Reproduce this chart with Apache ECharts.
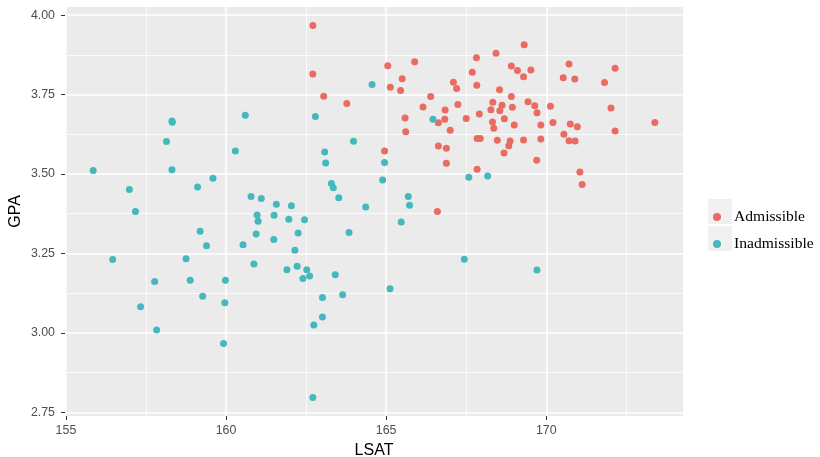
<!DOCTYPE html>
<html>
<head>
<meta charset="utf-8">
<script src="https://cdn.jsdelivr.net/npm/echarts@6/dist/echarts.min.js"></script>
<style>
	html, body {margin: 0; padding: 0; background: #fff;}
	#main {width: 820px; height: 457px;}
</style>
</head>
<body>
<div id="main"></div>
<script>
var seriesNames = ['Admissible', 'Inadmissible'];

// [LSAT, GPA]
var admissible = [
	[162.71, 3.967], [162.71, 3.815], [163.05, 3.745], [163.77, 3.722], [165.05, 3.841],
	[165.89, 3.853], [165.50, 3.800], [165.13, 3.773], [165.45, 3.763], [166.39, 3.744],
	[166.15, 3.711], [165.59, 3.676], [166.63, 3.661], [165.61, 3.633], [166.63, 3.588],
	[164.95, 3.572], [166.60, 3.382], [169.31, 3.907], [168.43, 3.880], [167.82, 3.866],
	[168.91, 3.840], [169.10, 3.826], [169.52, 3.827], [169.29, 3.806], [167.69, 3.820],
	[170.71, 3.846], [170.53, 3.803], [167.10, 3.789], [167.20, 3.769], [167.83, 3.779],
	[168.54, 3.765], [168.91, 3.744], [168.33, 3.726], [168.62, 3.716], [169.43, 3.727],
	[169.64, 3.715], [170.13, 3.713], [166.84, 3.701], [167.24, 3.719], [168.27, 3.702],
	[168.55, 3.699], [168.94, 3.710], [169.71, 3.693], [167.91, 3.689], [167.50, 3.675],
	[166.83, 3.672], [168.32, 3.664], [168.69, 3.674], [168.36, 3.644], [169.00, 3.654],
	[169.83, 3.654], [170.21, 3.662], [170.75, 3.657], [167.00, 3.638], [167.84, 3.612],
	[167.94, 3.612], [168.47, 3.606], [168.87, 3.604], [168.83, 3.589], [169.29, 3.607],
	[169.83, 3.610], [170.55, 3.625], [170.71, 3.605], [166.88, 3.581], [168.68, 3.566],
	[166.88, 3.534], [169.70, 3.543], [167.84, 3.515], [172.15, 3.833], [170.89, 3.799],
	[171.82, 3.788], [172.02, 3.708], [170.97, 3.649], [173.39, 3.662], [172.15, 3.635],
	[170.90, 3.604], [171.05, 3.506], [171.12, 3.467]
];

var inadmissible = [
	[155.85, 3.511], [156.98, 3.451], [157.17, 3.382], [158.14, 3.602], [158.31, 3.667],
	[158.32, 3.663], [158.31, 3.513], [159.11, 3.459], [159.59, 3.487], [160.29, 3.572],
	[160.60, 3.685], [160.78, 3.429], [161.10, 3.423], [161.57, 3.405], [160.97, 3.371],
	[161.00, 3.351], [161.50, 3.370], [159.19, 3.320], [160.94, 3.311], [161.49, 3.294],
	[160.53, 3.277], [159.39, 3.274], [156.46, 3.231], [158.75, 3.233], [160.87, 3.217],
	[157.77, 3.162], [158.88, 3.166], [159.98, 3.166], [159.27, 3.115], [159.96, 3.095],
	[157.33, 3.082], [157.83, 3.009], [159.92, 2.967], [162.79, 3.681], [164.56, 3.782],
	[166.46, 3.672], [163.98, 3.603], [163.08, 3.569], [163.11, 3.535], [164.95, 3.536],
	[164.89, 3.481], [163.29, 3.470], [163.35, 3.457], [163.52, 3.425], [165.69, 3.429],
	[165.73, 3.402], [162.04, 3.400], [164.36, 3.396], [161.96, 3.358], [162.45, 3.356],
	[165.47, 3.349], [162.25, 3.314], [163.84, 3.316], [162.15, 3.260], [161.90, 3.199],
	[162.22, 3.210], [162.52, 3.199], [162.40, 3.171], [162.61, 3.179], [163.41, 3.183],
	[165.12, 3.139], [163.01, 3.111], [163.64, 3.120], [163.01, 3.050], [162.74, 3.025],
	[162.71, 2.797], [167.58, 3.490], [168.17, 3.494], [167.44, 3.232], [169.71, 3.198]
];

var xTicks = [155, 160, 165, 170];
var xMinorTicks = [157.5, 162.5, 167.5, 172.5];
var yTicks = [2.75, 3.00, 3.25, 3.50, 3.75, 4.00];
var yMinorTicks = [2.875, 3.125, 3.375, 3.625, 3.875];
var xRange = [154.97, 174.27];
var yRange = [2.7385, 4.0255];

var colors = ['#EA6B62', '#44B8BD'];

var chart = echarts.init(document.getElementById('main'), null, {renderer: 'canvas'});

function $extend(a, b){
	for (var k in b) {
		if (b.hasOwnProperty(k)) a[k] = b[k];
	}
	return a;
}

function majorAxis(ticks, range, fmt, name, extra){
	var a = {
		type: 'value',
		min: range[0],
		max: range[1],
		name: name,
		nameLocation: 'middle',
		nameTextStyle: {fontFamily: 'Liberation Sans', fontSize: 16, color: '#000'},
		axisLine: {show: false},
		axisTick: {show: true, length: 4, customValues: ticks, lineStyle: {color: '#333', width: 1}},
		axisLabel: {
			customValues: ticks,
			fontFamily: 'Liberation Sans',
			fontSize: 12.4,
			color: '#4D4D4D',
			formatter: fmt
		},
		splitLine: {show: true, lineStyle: {color: '#fff', width: 1.6}},
		z: 2
	};
	return $extend(a, extra);
}

function minorAxis(ticks, range, extra){
	var a = {
		type: 'value',
		min: range[0],
		max: range[1],
		axisLine: {show: false},
		axisTick: {show: false, customValues: ticks},
		axisLabel: {show: false, customValues: ticks},
		splitLine: {show: true, lineStyle: {color: '#fff', width: 0.8}},
		z: 1
	};
	return $extend(a, extra);
}

var xMajor = majorAxis(xTicks, xRange, function(v){ return String(v); }, 'LSAT', {nameGap: 27, position: 'bottom'});
xMajor.axisLabel.margin = 9;
var yMajor = majorAxis(yTicks, yRange, function(v){ return v.toFixed(2); }, 'GPA', {nameGap: 41, nameMoveOverlap: false, position: 'left'});
yMajor.axisLabel.margin = 10;

var option = {
	animation: false,
	backgroundColor: '#fff',
	grid: {
		left: 65,
		right: 137,
		top: 7,
		bottom: 41,
		outerBoundsMode: 'none',
		containLabel: false,
		show: true,
		backgroundColor: '#EBEBEB',
		borderWidth: 0
	},
	xAxis: [xMajor, minorAxis(xMinorTicks, xRange, {position: 'bottom'})],
	yAxis: [yMajor, minorAxis(yMinorTicks, yRange, {position: 'left'})],
	legend: {
		orient: 'vertical',
		left: 708,
		top: 202,
		itemWidth: 24,
		itemHeight: 8,
		itemGap: 7,
		selectedMode: false,
		icon: 'circle',
		data: seriesNames,
		textStyle: {
			fontFamily: 'Liberation Serif',
			fontSize: 15.6,
			color: '#000',
			lineHeight: 20
		}
	},
	graphic: [
		{type: 'rect', left: 708, top: 199, shape: {width: 24, height: 25}, style: {fill: '#F0F0F0'}, z: -1},
		{type: 'rect', left: 708, top: 226, shape: {width: 24, height: 25}, style: {fill: '#F0F0F0'}, z: -1}
	],
	series: [
		{
			name: seriesNames[0],
			type: 'scatter',
			symbolSize: 7,
			itemStyle: {color: colors[0], opacity: 1},
			data: admissible
		},
		{
			name: seriesNames[1],
			type: 'scatter',
			symbolSize: 7,
			itemStyle: {color: colors[1], opacity: 1},
			data: inadmissible
		}
	]
};

chart.setOption(option);
</script>
</body>
</html>
